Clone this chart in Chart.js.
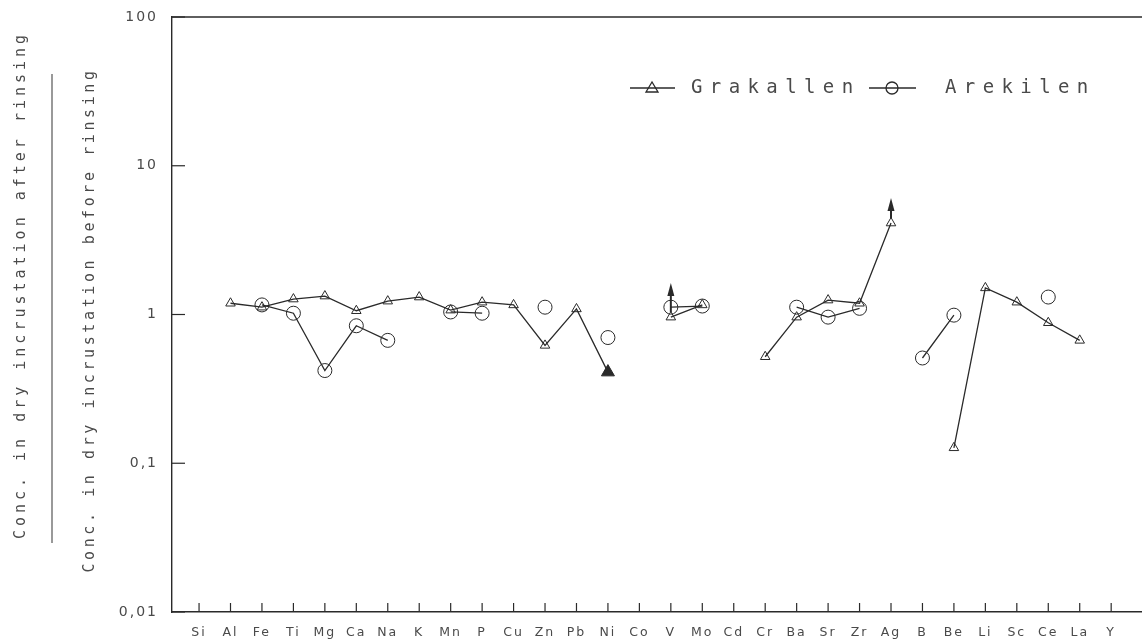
<!DOCTYPE html>
<html>
<head>
<meta charset="utf-8">
<script src="https://cdn.jsdelivr.net/npm/chart.js@4.4.1/dist/chart.umd.min.js"></script>
<style>
html,body{margin:0;padding:0;background:#fff;}
#wrap{position:relative;width:1142px;height:641px;}
</style>
</head>
<body>
<div id="wrap"><canvas id="c" width="1142" height="641"></canvas></div>
<script>
// ---- data ----
const categories = ['Si','Al','Fe','Ti','Mg','Ca','Na','K','Mn','P','Cu','Zn','Pb','Ni','Co','V','Mo','Cd','Cr','Ba','Sr','Zr','Ag','B','Be','Li','Sc','Ce','La','Y'];
const grakallen = [null,1.19,1.12,1.27,1.33,1.06,1.23,1.31,1.07,1.21,1.16,0.62,1.09,0.41,null,0.96,1.16,null,0.52,0.96,1.25,1.19,4.12,null,0.127,1.51,1.21,0.88,0.67,null];
const arekilen  = [null,null,1.16,1.02,0.42,0.84,0.67,null,1.04,1.02,null,1.12,null,0.70,null,1.12,1.14,null,null,1.12,0.96,1.10,null,0.51,0.99,null,null,1.31,null,null];
// lower-limit values (filled marker) and "greater than" arrows for Grakallen
const grakallenFilled = ['Ni'];
const arrowCategories = ['V','Ag'];
const arrowTops = [1.63, 6.06];
const yTickValues = [0.01,0.1,1,10,100];
const yTickLabels = ['0,01','0,1','1','10','100'];
const seriesNames = ['Grakallen','Arekilen'];
const yTitleTop = 'Conc. in dry incrustation after rinsing';
const yTitleBottom = 'Conc. in dry incrustation before rinsing';

const INK = '#2a2a2a';
const TXT = '#4a4a4a';

const toXY = arr => arr.map((v,i)=>({x:i,y:v}));

const gPointBg = categories.map(c => grakallenFilled.includes(c) ? INK : 'rgba(0,0,0,0)');
const gPointR = categories.map(c => grakallenFilled.includes(c) ? 7.5 : 5.5);

const framePlugin = {
  id:'frame',
  beforeDraw(chart){
    chart.ctx.letterSpacing = '2px';
  },
  afterDraw(chart){
    const {ctx, chartArea:a, scales:{x,y}} = chart;
    ctx.save();
    ctx.letterSpacing = '0px';
    ctx.strokeStyle = INK; ctx.lineWidth = 1.4;
    // top frame line
    ctx.beginPath(); ctx.moveTo(a.left, a.top); ctx.lineTo(chart.width, a.top); ctx.stroke();
    // inward ticks
    ctx.lineWidth = 1.2;
    x.ticks.forEach(t=>{ const px = x.getPixelForValue(t.value);
      ctx.beginPath(); ctx.moveTo(px, a.bottom); ctx.lineTo(px, a.bottom-9); ctx.stroke(); });
    y.ticks.forEach(t=>{ const py = y.getPixelForValue(t.value);
      ctx.beginPath(); ctx.moveTo(a.left, py); ctx.lineTo(a.left+13, py); ctx.stroke(); });
    // arrows (greater-than markers)
    ctx.fillStyle = INK;
    arrowCategories.forEach((c,k)=>{
      const i = categories.indexOf(c);
      const px = x.getPixelForValue(i);
      const pBase = y.getPixelForValue(grakallen[i]) - 5;
      const pTop = y.getPixelForValue(arrowTops[k]);
      ctx.lineWidth = 2;
      ctx.beginPath(); ctx.moveTo(px, pBase); ctx.lineTo(px, pTop+8); ctx.stroke();
      ctx.beginPath(); ctx.moveTo(px, pTop); ctx.lineTo(px-3.5, pTop+13); ctx.lineTo(px+3.5, pTop+13); ctx.closePath(); ctx.fill();
    });
    // legend
    const ly = 88;
    ctx.lineWidth = 1.3;
    ctx.beginPath(); ctx.moveTo(630, ly); ctx.lineTo(675, ly); ctx.stroke();
    ctx.beginPath(); ctx.moveTo(652, ly-6); ctx.lineTo(646, ly+4); ctx.lineTo(658, ly+4); ctx.closePath(); ctx.stroke();
    ctx.beginPath(); ctx.moveTo(869, ly); ctx.lineTo(916, ly); ctx.stroke();
    ctx.beginPath(); ctx.arc(892, ly, 6, 0, Math.PI*2); ctx.stroke();
    ctx.fillStyle = TXT;
    ctx.font = '19px "DejaVu Sans Mono"';
    ctx.letterSpacing = '7.4px';
    ctx.textBaseline = 'middle'; ctx.textAlign = 'left';
    ctx.fillText(seriesNames[0], 691, ly);
    ctx.fillText(seriesNames[1], 945, ly);
    // y axis title (fraction)
    ctx.font = '15px "DejaVu Sans Mono"';
    ctx.letterSpacing = '4px';
    ctx.textAlign = 'center';
    ctx.save(); ctx.translate(21, 285); ctx.rotate(-Math.PI/2); ctx.fillText(yTitleTop, 0, 0); ctx.restore();
    ctx.letterSpacing = '3.6px';
    ctx.save(); ctx.translate(90, 320); ctx.rotate(-Math.PI/2); ctx.fillText(yTitleBottom, 0, 0); ctx.restore();
    ctx.strokeStyle = '#555'; ctx.lineWidth = 1.2;
    ctx.beginPath(); ctx.moveTo(52, 74); ctx.lineTo(52, 543); ctx.stroke();
    ctx.restore();
  }
};

new Chart(document.getElementById('c'), {
  type:'line',
  data:{
    datasets:[
      { label:seriesNames[0], data:toXY(grakallen), borderColor:INK, borderWidth:1.3,
        pointStyle:'triangle', pointRadius:gPointR, pointBorderColor:INK, pointBorderWidth:1,
        pointBackgroundColor:gPointBg, spanGaps:false, tension:0 },
      { label:seriesNames[1], data:toXY(arekilen), borderColor:INK, borderWidth:1.3,
        pointStyle:'circle', pointRadius:7, pointBorderColor:INK, pointBorderWidth:1,
        pointBackgroundColor:'rgba(0,0,0,0)', spanGaps:false, tension:0 }
    ]
  },
  options:{
    responsive:false, animation:false, devicePixelRatio:1,
    layout:{autoPadding:false, padding:{top:17,right:0,bottom:0,left:0}},
    plugins:{legend:{display:false}, tooltip:{enabled:false}},
    scales:{
      x:{ type:'linear', min:-0.86, max:29.98,
        afterBuildTicks: s => { s.ticks = categories.map((c,i)=>({value:i})); },
        afterFit: s => { s.height = 29; s.paddingLeft = 0; s.paddingRight = 0; },
        grid:{drawOnChartArea:false, drawTicks:false},
        border:{display:true, color:INK, width:1.4},
        ticks:{ autoSkip:false, maxRotation:0, padding:13, color:TXT,
          font:{family:'"DejaVu Sans"', size:12.5},
          callback: v => categories[v] ?? '' }
      },
      y:{ type:'logarithmic', min:0.01, max:100,
        afterBuildTicks: s => { s.ticks = yTickValues.map(v=>({value:v})); },
        afterFit: s => { s.width = 172; s.paddingTop = 0; s.paddingBottom = 0; },
        grid:{drawOnChartArea:false, drawTicks:false},
        border:{display:true, color:INK, width:1.4},
        ticks:{ padding:14, color:TXT, font:{family:'"DejaVu Sans"', size:14},
          callback: v => { const k = yTickValues.indexOf(v); return k>=0 ? yTickLabels[k] : ''; } }
      }
    }
  },
  plugins:[framePlugin]
});
</script>
</body>
</html>
